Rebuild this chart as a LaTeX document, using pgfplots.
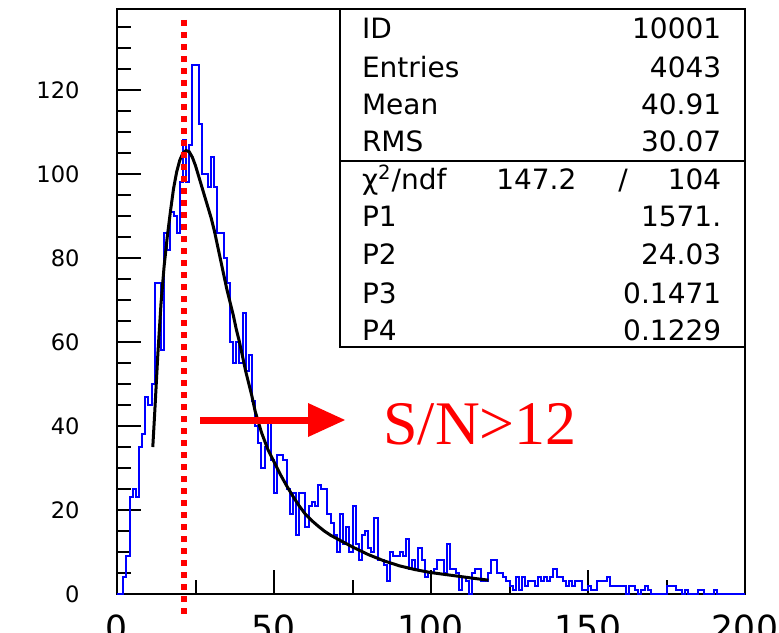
\documentclass[border=0pt]{standalone}
\usepackage{fontspec}
\setmainfont{DejaVu Sans}
\newfontfamily\seriffont{Liberation Serif}
\usepackage{pgfplots}
\pgfplotsset{compat=1.18}
\begin{document}
\begin{tikzpicture}
\useasboundingbox (-58.5pt,-19pt) rectangle (331pt,297pt);
\clip (-58.5pt,-19pt) rectangle (331pt,297pt);
\begin{axis}[
  at={(0pt,0pt)}, anchor=south west,
  scale only axis, width=314pt, height=292.5pt,
  xmin=0, xmax=200, ymin=0, ymax=139.3,
  axis line style={line width=1pt},
  xtick={0,50,...,200}, minor xtick={25,75,...,175},
  ytick={0,20,...,120}, minor ytick={5,10,...,135},
  tick pos=left, tick align=inside,
  major tick length=12pt, minor tick length=7pt,
  major tick style={black, line width=1pt},
  minor tick style={black, line width=1pt},
  /pgf/number format/assume math mode=true,
  xticklabel style={font=\fontsize{17.3}{18}\selectfont, anchor=north, inner sep=0pt, yshift=-10pt},
  yticklabel style={font=\fontsize{11.3}{12}\selectfont, anchor=east, inner sep=0pt, xshift=-18.5pt},
]
\addplot[const plot, blue, line width=1pt] coordinates {
(0,0)(1,0)(2,4)(3,9)(4,23)(5,25)(6,23)(7,35)(8,38)(9,47)
(10,45)(11,50)(12,74)(13,74)(14,58)(15,86)(16,82)(17,91)(18,90)(19,86)
(20,98)(21,108)(22,98)(23,107)(24,126)(25,126)(26,112)(27,100)(28,100)(29,97)
(30,104)(31,97)(32,86)(33,86)(34,80)(35,74)(36,60)(37,55)(38,60)(39,55)
(40,67)(41,53)(42,57)(43,46)(44,40)(45,36)(46,30)(47,35)(48,41)(49,32)
(50,24)(51,33)(52,33)(53,32)(54,25)(55,19)(56,24)(57,14)(58,24)(59,24)
(60,16)(61,21)(62,22)(63,21)(64,26)(65,25)(66,25)(67,19)(68,17)(69,14)
(70,10)(71,19)(72,12)(73,16)(74,10)(75,21)(76,12)(77,8)(78,14)(79,15)
(80,11)(81,10)(82,18)(83,8)(84,8)(85,7)(86,3)(87,10)(88,9)(89,9)
(90,10)(91,9)(92,13)(93,6)(94,8)(95,6)(96,11)(97,8)(98,4)(99,5)
(100,5)(101,6)(102,8)(103,8)(104,5)(105,12)(106,6)(107,6)(108,5)(109,1)
(110,4)(111,3)(112,0)(113,5)(114,6)(115,6)(116,3)(117,3)(118,5)(119,8)
(120,8)(121,5)(122,5)(123,4)(124,3)(125,2)(126,1)(127,4)(128,1)(129,4)
(130,2)(131,3)(132,3)(133,2)(134,4)(135,3)(136,4)(137,3)(138,4)(139,6)
(140,4)(141,4)(142,3)(143,2)(144,3)(145,2)(146,3)(147,3)(148,1)(149,1)
(150,2)(151,1)(152,1)(153,3)(154,3)(155,3)(156,4)(157,2)(158,2)(159,2)
(160,2)(161,2)(162,0)(163,2)(164,2)(165,1)(166,0)(167,1)(168,2)(169,1)
(170,0)(171,0)(172,0)(173,0)(174,0)(175,2)(176,2)(177,2)(178,1)(179,1)
(180,0)(181,1)(182,0)(183,0)(184,0)(185,1)(186,1)(187,0)(188,0)(189,0)
(190,1)(191,0)(192,0)(193,0)(194,0)(195,0)(196,0)(197,0)(198,0)(199,0)
(200,0)};
\addplot[black, line width=1.5pt] coordinates {
(11.4,35)(12,43)(12.5,50)(13,57)(14,69)(15,78)(16,85)(17,91)(18,96.5)(19,100.5)
(20,103.3)(21,105)(22,105.6)(23,105.3)(24,104)(25,102)(26,99.5)(27,97)(28,94.5)(29,92)
(30,89.5)(31,86.5)(32,83)(33,79.5)(34,76)(35,72.5)(36,69.5)(37,66.5)(38,63)(39,60)
(40,56.5)(41,53)(42,50)(43,47)(44,43.5)(45,41)(46,38.5)(47,36.5)(48,34.5)(50,31.5)
(52,28.5)(54,25.8)(56,23.3)(58,21)(60,19)(62,17.5)(64,16.2)(66,15)(68,14)(70,13.2)
(72,12.4)(75,11.2)(80,9.4)(85,7.9)(90,6.7)(95,5.8)(100,5.1)(105,4.6)(110,4.1)(115,3.6)(118.3,3.3)};
\end{axis}
% dotted marker line
\draw[red, line width=3pt, dash pattern=on 3pt off 3pt] (33.5pt,287pt) -- (33.5pt,-10pt);
% arrow
\fill[red] (41.5pt,85.25pt) rectangle (96pt,88.75pt);
\fill[red] (95.5pt,78.5pt) -- (114pt,87pt) -- (95.5pt,95.5pt) -- cycle;
\node[red, anchor=base west, inner sep=0pt, font=\seriffont\fontsize{31}{31}\selectfont] at (133pt,75pt) {S/N>12};
% stats box
\draw[line width=1pt, fill=white] (111.5pt,123.5pt) rectangle (314pt,292.5pt);
\draw[line width=1pt] (111.5pt,216.5pt) -- (314pt,216.5pt);
\begin{scope}[every node/.style={inner sep=0pt, font=\fontsize{14}{14}\selectfont}]
\node[anchor=base west] at (122.3pt,277.9pt) {ID};
\node[anchor=base east] at (302.3pt,277.9pt) {10001};
\node[anchor=base west] at (122.3pt,258.4pt) {Entries};
\node[anchor=base east] at (302.3pt,258.4pt) {4043};
\node[anchor=base west] at (122.3pt,239.5pt) {Mean};
\node[anchor=base east] at (302.3pt,239.5pt) {40.91};
\node[anchor=base west] at (122.3pt,221.2pt) {RMS};
\node[anchor=base east] at (302.3pt,221.2pt) {30.07};
\node[anchor=base west] at (122.3pt,202pt) {χ\textsuperscript{2}/ndf};
\node[anchor=base east] at (229.9pt,202pt) {147.2};
\node[anchor=base] at (253pt,202pt) {/};
\node[anchor=base east] at (302.3pt,202pt) {104};
\node[anchor=base west] at (122.3pt,183.7pt) {P1};
\node[anchor=base east] at (302.3pt,183.7pt) {1571.};
\node[anchor=base west] at (122.3pt,164.5pt) {P2};
\node[anchor=base east] at (302.3pt,164.5pt) {24.03};
\node[anchor=base west] at (122.3pt,145.5pt) {P3};
\node[anchor=base east] at (302.3pt,145.5pt) {0.1471};
\node[anchor=base west] at (122.3pt,127pt) {P4};
\node[anchor=base east] at (302.3pt,127pt) {0.1229};
\end{scope}
\end{tikzpicture}
\end{document}
